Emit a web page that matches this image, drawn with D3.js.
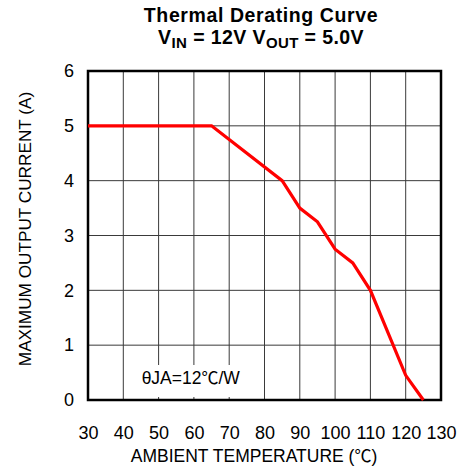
<!DOCTYPE html>
<html>
<head>
<meta charset="utf-8">
<script src="https://cdn.jsdelivr.net/npm/d3@7"></script>
<style>
  html, body { margin: 0; padding: 0; background: #fff; }
  svg { display: block; font-family: Arial, "Liberation Sans", Helvetica, sans-serif; }
</style>
</head>
<body>
<svg id="chart" width="463" height="472"></svg>
<script>
// ---- data ----
const temperature = [30, 65, 85, 90, 95, 100, 105, 110, 120, 125];
const maxCurrent  = [5, 5, 4, 3.5, 3.25, 2.75, 2.5, 2, 0.45, 0];
const xTicks = [30, 40, 50, 60, 70, 80, 90, 100, 110, 120, 130];
const yTicks = [0, 1, 2, 3, 4, 5, 6];
const titleLine1 = "Thermal Derating Curve";
const xLabel = "AMBIENT TEMPERATURE (";
const yLabel = "MAXIMUM OUTPUT CURRENT (A)";
const degC = "\u2103";

// ---- layout ----
const svg = d3.select("#chart");
const L = 88, T = 71, R = 441, B = 400;
const x = d3.scaleLinear().domain([30, 130]).range([L, R]);
const y = d3.scaleLinear().domain([0, 6]).range([B, T]);
const cjk = "'Noto Sans CJK SC', 'Noto Sans CJK JP', sans-serif";

// grid
const grid = svg.append("g");
grid.selectAll("line.v").data(xTicks.slice(1, -1)).enter().append("line")
  .attr("x1", d => x(d)).attr("x2", d => x(d)).attr("y1", T).attr("y2", B)
  .attr("stroke", "#3a3a3a").attr("stroke-width", 1);
grid.selectAll("line.h").data(yTicks.slice(1, -1)).enter().append("line")
  .attr("x1", L).attr("x2", R).attr("y1", d => y(d)).attr("y2", d => y(d))
  .attr("stroke", "#3a3a3a").attr("stroke-width", 1);

// annotation with white background
const ann = svg.append("g");
const annX = x(45.2), annY = 384;
ann.append("rect").attr("x", annX - 8).attr("y", 365).attr("width", 116).attr("height", 32).attr("fill", "#fff");
const at = ann.append("text").attr("x", annX).attr("y", annY).attr("font-size", 17.5).attr("fill", "#000");
at.append("tspan").text("\u03B8JA=12");
at.append("tspan").attr("font-family", cjk).attr("font-size", 17).text(degC);
at.append("tspan").text("/W");

// frame
svg.append("rect").attr("x", L).attr("y", T).attr("width", R - L).attr("height", B - T)
  .attr("fill", "none").attr("stroke", "#000").attr("stroke-width", 2.5);

// curve
const pts = temperature.map((t, i) => [t, maxCurrent[i]]);
svg.append("path").datum(pts)
  .attr("d", d3.line().x(d => x(d[0])).y(d => y(d[1])))
  .attr("fill", "none").attr("stroke", "#ff0000").attr("stroke-width", 3.2)
  .attr("stroke-linejoin", "miter");

// axes (labels only)
const xAxis = d3.axisBottom(x).tickValues(xTicks).tickSize(0).tickPadding(0).tickFormat(d3.format("d"));
const gx = svg.append("g").attr("transform", `translate(0,${B + 26})`).call(xAxis);
gx.select(".domain").remove();
gx.selectAll("text").attr("font-size", 18).attr("fill", "#000").attr("font-family", null);

const yAxis = d3.axisLeft(y).tickValues(yTicks).tickSize(0).tickPadding(0).tickFormat(d3.format("d"));
const gy = svg.append("g").attr("transform", `translate(${L - 14},0)`).call(yAxis);
gy.select(".domain").remove();
gy.selectAll("text").attr("font-size", 18).attr("fill", "#000").attr("font-family", null);

// axis titles
const xt = svg.append("text").attr("x", 254).attr("y", 462).attr("text-anchor", "middle")
  .attr("font-size", 17.5);
xt.append("tspan").text(xLabel);
xt.append("tspan").attr("font-family", cjk).attr("font-size", 17).text(degC);
xt.append("tspan").text(")");
svg.append("text").attr("transform", `translate(31,229) rotate(-90)`).attr("text-anchor", "middle")
  .attr("font-size", 17.2).text(yLabel);

// title
const cx = 261;
svg.append("text").attr("x", cx).attr("y", 22).attr("text-anchor", "middle")
  .attr("font-size", 19.5).attr("font-weight", "bold").attr("letter-spacing", 0.6).text(titleLine1);
const t2 = svg.append("text").attr("x", cx).attr("y", 44).attr("text-anchor", "middle")
  .attr("font-size", 19.5).attr("font-weight", "bold").attr("letter-spacing", 0.4);
t2.append("tspan").text("V");
t2.append("tspan").attr("dy", 4).attr("font-size", 15).text("IN");
t2.append("tspan").attr("dy", -4).text(" = 12V V");
t2.append("tspan").attr("dy", 4).attr("font-size", 15).text("OUT");
t2.append("tspan").attr("dy", -4).text(" = 5.0V");
</script>
</body>
</html>
